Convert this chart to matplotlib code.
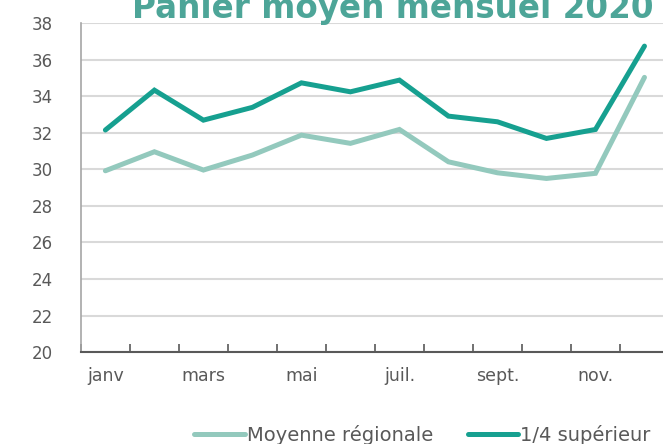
import numpy as np
import matplotlib
matplotlib.use("Agg")
import matplotlib.pyplot as plt

# Data

MONTHS = ["janv", "févr.", "mars", "avr.", "mai", "juin",
          "juil.", "août", "sept.", "oct.", "nov.", "déc."]

MOYENNE   = [29.92, 30.96, 29.96, 30.78, 31.87, 31.42,
             32.18, 30.41, 29.81, 29.50, 29.78, 35.03]
SUPERIEUR = [32.15, 34.33, 32.69, 33.39, 34.73, 34.24,
             34.88, 32.91, 32.60, 31.69, 32.18, 36.74]

Y_TICKS = list(range(20, 40, 2))

LIGHT = "#93C9BD"
DARK  = "#16A090"
TEXT  = "#595959"

plt.rcParams["font.family"] = ["DejaVu Sans"]

fig = plt.figure(figsize=(6.63, 4.44), dpi=100)
ax = fig.add_axes([0.122, 0.207, 0.887, 0.741])

x = np.arange(len(MONTHS))
l1, = ax.plot(x, MOYENNE, color=LIGHT, linewidth=3.6, solid_capstyle="round",
              solid_joinstyle="miter", label="Moyenne régionale", zorder=3)
l2, = ax.plot(x, SUPERIEUR, color=DARK, linewidth=3.6, solid_capstyle="round",
              solid_joinstyle="miter", label="1/4 supérieur", zorder=3)

ax.set_xlim(-0.5, len(MONTHS) - 0.5)
ax.set_ylim(20, 38)
ax.set_yticks(Y_TICKS)
ax.set_yticklabels([str(v) for v in Y_TICKS])
ax.tick_params(axis="y", length=0, pad=20, labelsize=12, labelcolor=TEXT)

# tick marks between categories, labels every second month
ax.set_xticks(np.arange(-0.5, len(MONTHS), 1.0))
ax.set_xticklabels([])
ax.tick_params(axis="x", which="major", direction="in", length=6, width=1.2, color=TEXT)
ax.set_xticks(x[::2], minor=True)
ax.set_xticklabels(MONTHS[::2], minor=True)
ax.tick_params(axis="x", which="minor", length=0, pad=11, labelsize=12.5, labelcolor=TEXT)

ax.grid(axis="y", color="#D9D9D9", linewidth=1.5, zorder=0)
ax.set_axisbelow(True)
for s in ["top", "right"]:
    ax.spines[s].set_visible(False)
ax.spines["left"].set_color("#A6A6A6")
ax.spines["left"].set_linewidth(1.2)
ax.spines["bottom"].set_color(TEXT)
ax.spines["bottom"].set_linewidth(1.5)
ax.spines["bottom"].set_zorder(4)

fig.text(0.593, 0.959, "Panier moyen mensuel 2020", ha="center", va="baseline",
         fontsize=23.5, fontweight="bold", color="#4DA598")

fig.legend(handles=[l1, l2], loc="center", bbox_to_anchor=(0.637, 0.02),
           ncol=2, frameon=False, fontsize=14, handlelength=2.6,
           handletextpad=0.1, columnspacing=1.8, labelcolor=TEXT)

fig.savefig("out.png", dpi=100)
